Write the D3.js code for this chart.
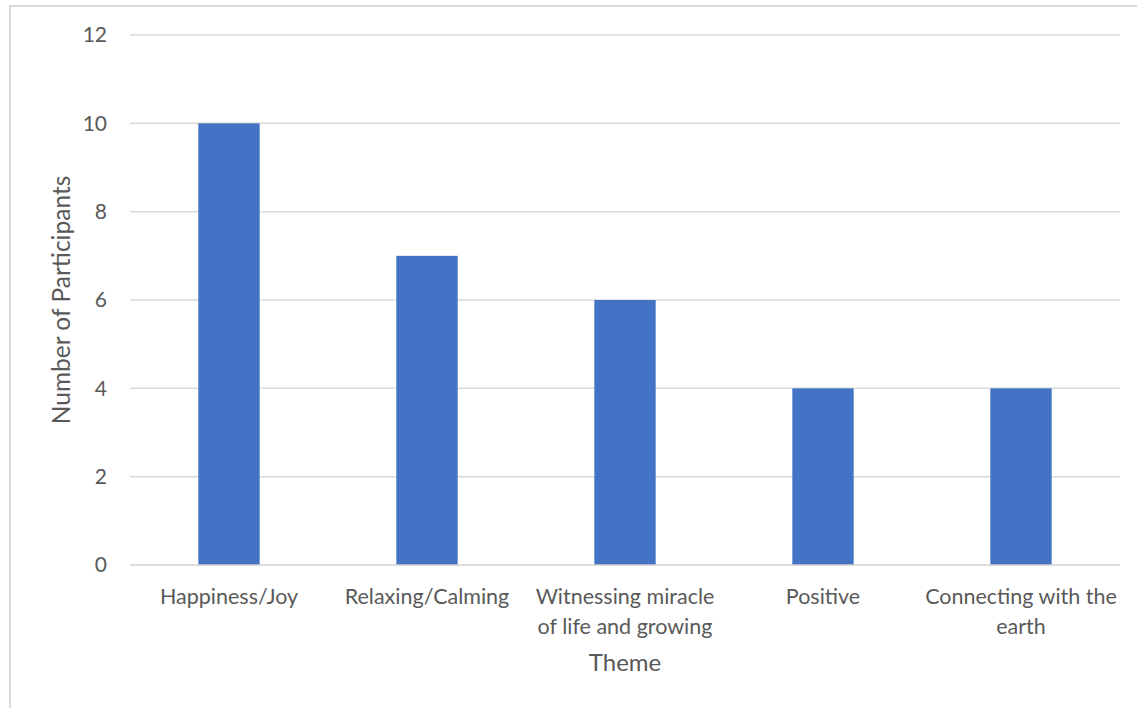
<!DOCTYPE html>
<html>
<head>
<meta charset="utf-8">
<script src="https://cdn.jsdelivr.net/npm/d3@7"></script>
<style>
  html, body { margin: 0; padding: 0; background: #fff; }
  svg { display: block; }
  text { font-family: Lato, "Open Sans", sans-serif; fill: #595959; }
</style>
</head>
<body>
<svg id="chart" width="1137" height="708"></svg>
<script>
// Themes reported by participants and how many mentioned each
const categories = [
  ["Happiness/Joy"],
  ["Relaxing/Calming"],
  ["Witnessing miracle", "of life and growing"],
  ["Positive"],
  ["Connecting with the", "earth"]
];
const participants = [10, 7, 6, 4, 4];
const yTicks = [0, 2, 4, 6, 8, 10, 12];
const xTitle = "Theme";
const yTitle = "Number of Participants";

const svg = d3.select("#chart");
const W = 1137, H = 708;
const plot = { left: 130, right: 1120, top: 35, bottom: 565 };

// outer frame
svg.append("rect")
  .attr("x", 10).attr("y", 6)
  .attr("width", W + 20).attr("height", H + 20)
  .attr("fill", "none").attr("stroke", "#d9d9d9").attr("stroke-width", 2);

const labels = categories.map(d => d.join(" "));
const x = d3.scaleBand().domain(labels).range([plot.left, plot.right]).paddingInner(0.69).paddingOuter(0.345);
const y = d3.scaleLinear().domain([0, 12]).range([plot.bottom, plot.top]);

// gridlines
svg.append("g").selectAll("line").data(yTicks.filter(t => t > 0)).join("line")
  .attr("x1", plot.left).attr("x2", plot.right)
  .attr("y1", d => y(d)).attr("y2", d => y(d))
  .attr("stroke", "#d9d9d9").attr("stroke-width", 1.5);

// bars
svg.append("g").selectAll("rect").data(participants).join("rect")
  .attr("x", (d, i) => x(labels[i]))
  .attr("width", x.bandwidth())
  .attr("y", d => y(d))
  .attr("height", d => y(0) - y(d))
  .attr("fill", "#4472c4");

// baseline
svg.append("line")
  .attr("x1", plot.left).attr("x2", plot.right)
  .attr("y1", y(0)).attr("y2", y(0))
  .attr("stroke", "#d0d0d0").attr("stroke-width", 1.5);

// y tick labels
svg.append("g").selectAll("text").data(yTicks).join("text")
  .attr("x", 107).attr("y", d => y(d))
  .attr("dy", "0.35em")
  .attr("text-anchor", "end")
  .style("font-size", "21px")
  .text(d => d);

// x category labels
const xl = svg.append("g").selectAll("text").data(categories).join("text")
  .attr("text-anchor", "middle")
  .style("font-size", "21.5px")
  .attr("transform", (d, i) => `translate(${x(labels[i]) + x.bandwidth() / 2},604)`);
xl.selectAll("tspan").data(d => d).join("tspan")
  .attr("x", 0).attr("y", (d, j) => j * 30)
  .text(d => d);

// axis titles
svg.append("text")
  .attr("x", (plot.left + plot.right) / 2).attr("y", 671)
  .attr("text-anchor", "middle")
  .style("font-size", "24px")
  .text(xTitle);

svg.append("text")
  .attr("transform", `translate(70,${(plot.top + plot.bottom) / 2}) rotate(-90)`)
  .attr("text-anchor", "middle")
  .style("font-size", "24.5px")
  .text(yTitle);
</script>
</body>
</html>
